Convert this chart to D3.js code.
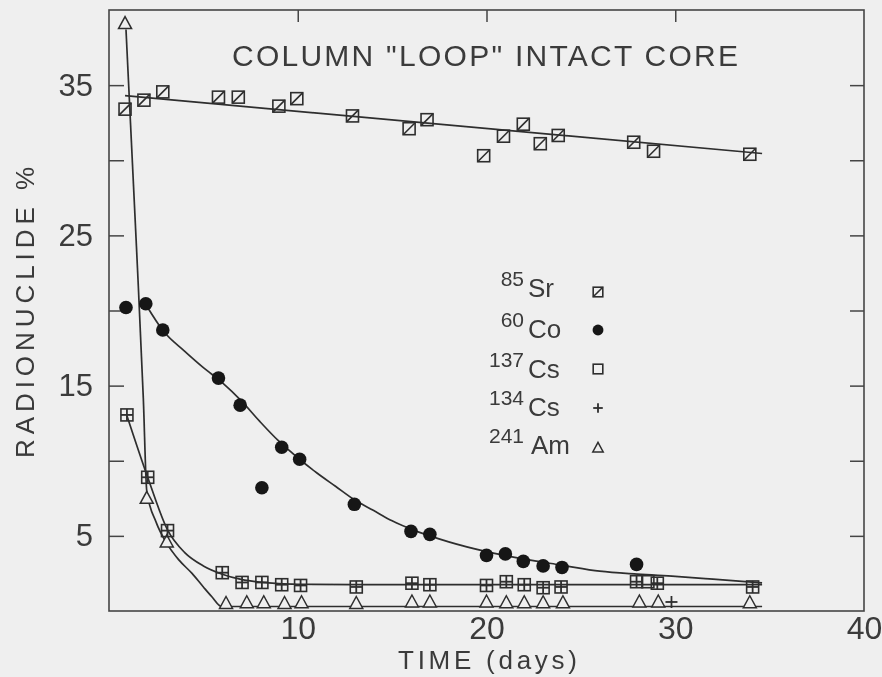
<!DOCTYPE html>
<html>
<head>
<meta charset="utf-8">
<script src="https://cdn.jsdelivr.net/npm/d3@7"></script>
<style>
  html, body { margin: 0; padding: 0; background: #efefef; }
  svg { display: block; }
  text { font-family: "Liberation Sans", Arial, sans-serif; fill: #3a3a3a; }
</style>
</head>
<body>
<svg id="chart" width="882" height="677"></svg>
<script>
// ---- measured radionuclide percentages vs time (days) ----
const sr85Days = [0.85, 1.85, 2.85, 5.8, 6.85, 9.0, 9.95, 12.9, 15.9, 16.85, 19.85, 20.9, 21.95, 22.85, 23.8, 27.8, 28.85, 33.95];
const sr85Vals = [33.4, 34.0, 34.55, 34.2, 34.2, 33.6, 34.1, 32.95, 32.1, 32.7, 30.3, 31.6, 32.4, 31.1, 31.65, 31.2, 30.6, 30.4];

const co60Days = [0.9, 1.95, 2.85, 5.8, 6.95, 8.1, 9.15, 10.1, 13.0, 16.0, 17.0, 20.0, 21.0, 21.95, 23.0, 24.0, 27.95];
const co60Vals = [20.2, 20.45, 18.7, 15.5, 13.7, 8.2, 10.9, 10.1, 7.1, 5.3, 5.1, 3.7, 3.8, 3.3, 3.0, 2.9, 3.1];

const cs137Days = [0.95, 2.05, 3.1, 6.0, 7.05, 8.1, 9.15, 10.15, 13.1, 16.05, 17.0, 20.0, 21.05, 22.0, 23.0, 23.95, 27.95, 28.55, 29.05, 34.1];
const cs137Vals = [13.05, 8.9, 5.35, 2.55, 1.9, 1.9, 1.75, 1.7, 1.6, 1.85, 1.75, 1.7, 1.95, 1.75, 1.55, 1.6, 1.95, 1.95, 1.85, 1.6];

const cs134Days = [0.95, 2.05, 3.1, 6.0, 7.05, 8.1, 9.15, 10.15, 13.1, 16.05, 17.0, 20.0, 21.05, 22.0, 23.0, 23.95, 27.95, 29.05, 29.8, 34.1];
const cs134Vals = [13.05, 8.9, 5.35, 2.55, 1.9, 1.9, 1.75, 1.7, 1.6, 1.85, 1.75, 1.7, 1.95, 1.75, 1.55, 1.6, 1.95, 1.85, 0.6, 1.6];

const am241Days = [0.85, 2.0, 3.06, 6.2, 7.3, 8.2, 9.3, 10.2, 13.1, 16.05, 17.0, 20.0, 21.05, 22.0, 23.0, 24.05, 28.1, 29.1, 33.95];
const am241Vals = [39.1, 7.5, 4.6, 0.5, 0.55, 0.55, 0.5, 0.55, 0.5, 0.6, 0.6, 0.6, 0.55, 0.55, 0.55, 0.55, 0.6, 0.6, 0.55];

// ---- hand-drawn trend curves ----
const srFitDays = [0.85, 34.6];
const srFitVals = [34.3, 30.45];

const coFitDays = [1.95, 2.9, 4, 5, 6, 7, 8, 9, 10, 11, 12, 13, 14, 15, 16, 17, 18, 20, 22, 24, 26, 28, 30, 32, 34.6];
const coFitVals = [20.4, 18.6, 17.3, 16.2, 15.2, 14.0, 12.6, 11.3, 10.2, 9.2, 8.3, 7.4, 6.7, 6.0, 5.45, 5.0, 4.6, 3.95, 3.45, 3.05, 2.65, 2.45, 2.3, 2.12, 1.87];

const csFitDays = [0.95, 2.05, 3.1, 4.0, 5.0, 6.0, 7.0, 8.0, 9.0, 10.0, 13.0, 34.6];
const csFitVals = [13.0, 8.9, 5.4, 3.9, 3.0, 2.45, 2.1, 1.92, 1.82, 1.78, 1.75, 1.75];

const amFitDays = [0.9, 1.46, 1.82, 2.0, 2.5, 3.06, 3.7, 4.4, 5.0, 5.45, 5.97, 34.6];
const amFitVals = [38.7, 24.1, 14.1, 8.0, 5.9, 4.5, 3.4, 2.5, 1.6, 0.95, 0.3, 0.3];

// ---- axis ticks and labels ----
const xTickLabels = [10, 20, 30, 40];
const xTopTicks = [10, 20, 30];
const yTicks = [5, 10, 15, 20, 25, 30, 35];
const yTickLabels = [5, 15, 25, 35];

const titleText = 'COLUMN "LOOP" INTACT CORE';
const xTitle = 'TIME (days)';
const yTitle = 'RADIONUCLIDE %';

const legendMass = ['85', '60', '137', '134', '241'];
const legendElement = ['Sr', 'Co', 'Cs', 'Cs', 'Am'];
const legendMarker = ['sr', 'co', 'cs137', 'cs134', 'am'];

// ---- drawing ----
const INK = '#2e2e2e';
const BG = '#efefef';
const svg = d3.select('#chart');

const defs = svg.append('defs');
defs.append('filter').attr('id', 'soft')
  .attr('x', '-5%').attr('y', '-5%').attr('width', '110%').attr('height', '110%')
  .append('feGaussianBlur').attr('stdDeviation', 0.55);

const root = svg.append('g').attr('filter', 'url(#soft)');

const x = d3.scaleLinear().domain([0, 40]).range([109, 864]);
const y = d3.scaleLinear().domain([0, 40]).range([611, 10]);

// frame
root.append('rect')
  .attr('x', x(0)).attr('y', y(40))
  .attr('width', x(40) - x(0)).attr('height', y(0) - y(40))
  .attr('fill', 'none').attr('stroke', '#444').attr('stroke-width', 1.6);

function styleAxis(g, fontSize) {
  g.select('.domain').remove();
  g.selectAll('.tick line').attr('stroke', '#444').attr('stroke-width', 1.5);
  g.selectAll('.tick text').attr('fill', '#3a3a3a')
    .style('font-size', fontSize + 'px')
    .style('font-family', '"Liberation Sans", Arial, sans-serif');
}

root.append('g').attr('transform', `translate(0,${y(0)})`)
  .call(d3.axisBottom(x).tickValues(xTickLabels).tickSize(0).tickPadding(5).tickFormat(d3.format('d')))
  .call(g => styleAxis(g, 32));

root.append('g').attr('transform', `translate(0,${y(40)})`)
  .call(d3.axisTop(x).tickValues(xTopTicks).tickSize(-12).tickFormat(''))
  .call(g => styleAxis(g, 10));

root.append('g').attr('transform', `translate(${x(0)},0)`)
  .call(d3.axisLeft(y).tickValues(yTicks).tickSize(-15).tickPadding(16)
    .tickFormat(d => yTickLabels.includes(d) ? String(d) : ''))
  .call(g => styleAxis(g, 31));

root.append('g').attr('transform', `translate(${x(40)},0)`)
  .call(d3.axisRight(y).tickValues(yTicks).tickSize(-14).tickFormat(''))
  .call(g => styleAxis(g, 10));

// trend curves
const line = d3.line().x(d => x(d[0])).y(d => y(d[1])).curve(d3.curveMonotoneX);
const fits = [
  [srFitDays, srFitVals],
  [coFitDays, coFitVals],
  [csFitDays, csFitVals],
  [amFitDays, amFitVals]
];
root.append('g').selectAll('path').data(fits).join('path')
  .attr('d', f => line(d3.zip(f[0], f[1])))
  .attr('fill', 'none').attr('stroke', INK).attr('stroke-width', 1.7);

// marker painters
function drawMarker(g, kind, s) {
  const h = 6 * s;
  if (kind === 'sr') {
    g.append('rect').attr('x', -h).attr('y', -h).attr('width', 2 * h).attr('height', 2 * h)
      .attr('fill', 'none').attr('stroke', INK).attr('stroke-width', 1.6);
    g.append('line').attr('x1', -h).attr('y1', h).attr('x2', h).attr('y2', -h)
      .attr('stroke', INK).attr('stroke-width', 1.6);
  } else if (kind === 'co') {
    g.append('circle').attr('r', 6.8 * s).attr('fill', '#161616');
  } else if (kind === 'cs137') {
    g.append('rect').attr('x', -h).attr('y', -h).attr('width', 2 * h).attr('height', 2 * h)
      .attr('fill', 'none').attr('stroke', INK).attr('stroke-width', 1.6);
  } else if (kind === 'cs134') {
    g.append('line').attr('x1', -h).attr('x2', h).attr('y1', 0).attr('y2', 0)
      .attr('stroke', INK).attr('stroke-width', 1.8);
    g.append('line').attr('y1', -h).attr('y2', h).attr('x1', 0).attr('x2', 0)
      .attr('stroke', INK).attr('stroke-width', 1.8);
  } else if (kind === 'am') {
    g.append('path')
      .attr('d', `M0,${-7 * s}L${6.5 * s},${5 * s}L${-6.5 * s},${5 * s}Z`)
      .attr('fill', BG).attr('stroke', INK).attr('stroke-width', 1.5);
  }
}

const series = [
  ['am', am241Days, am241Vals],
  ['sr', sr85Days, sr85Vals],
  ['co', co60Days, co60Vals],
  ['cs137', cs137Days, cs137Vals],
  ['cs134', cs134Days, cs134Vals]
];
series.forEach(([kind, days, vals]) => {
  const layer = root.append('g');
  d3.zip(days, vals).forEach(([d, v]) => {
    const g = layer.append('g').attr('transform', `translate(${x(d)},${y(v)})`);
    drawMarker(g, kind, 1);
  });
});

// title
root.append('text')
  .attr('x', 232).attr('y', 66)
  .attr('textLength', 506).attr('lengthAdjust', 'spacing')
  .style('font-size', '30px')
  .text(titleText);

// axis titles
root.append('text')
  .attr('x', 398).attr('y', 669)
  .attr('textLength', 179).attr('lengthAdjust', 'spacing')
  .style('font-size', '26px')
  .text(xTitle);

root.append('text')
  .attr('transform', 'translate(34,458) rotate(-90)')
  .attr('x', 0).attr('y', 0)
  .attr('textLength', 291).attr('lengthAdjust', 'spacing')
  .style('font-size', '26px')
  .text(yTitle);

// legend
const legendBase = [297, 338, 378, 416, 454];
const legendMarkY = [292, 330, 369, 408, 448];
legendElement.forEach((el, i) => {
  root.append('text')
    .attr('x', 524).attr('y', legendBase[i] - 11)
    .attr('text-anchor', 'end')
    .style('font-size', '21px')
    .text(legendMass[i]);
  root.append('text')
    .attr('x', el === 'Am' ? 531 : 528).attr('y', legendBase[i])
    .style('font-size', '26px')
    .text(el);
  const g = root.append('g').attr('transform', `translate(598,${legendMarkY[i]})`);
  drawMarker(g, legendMarker[i], 0.8);
});
</script>
</body>
</html>
